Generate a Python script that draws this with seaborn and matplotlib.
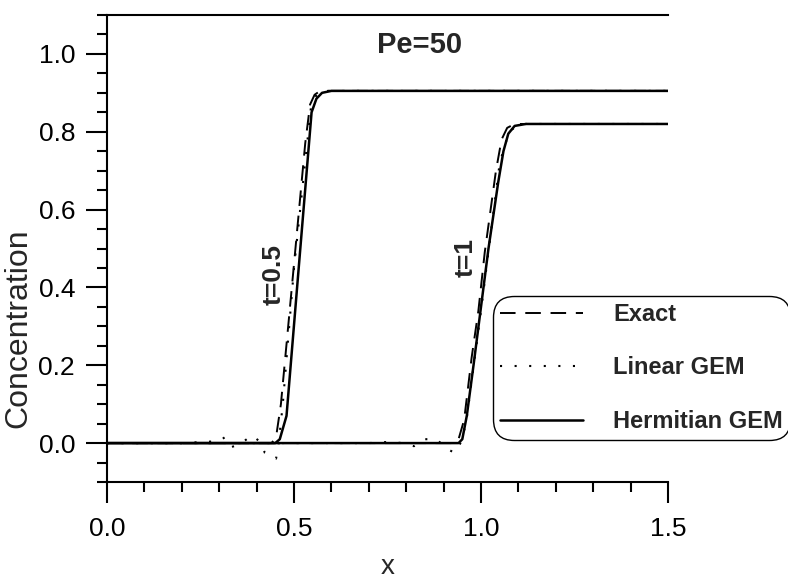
import numpy as np
import matplotlib
matplotlib.use("Agg")
import matplotlib.pyplot as plt
import pandas as pd
import seaborn as sns
from matplotlib.ticker import MultipleLocator

# valores (x, concentracao)
exato_t05_x = [0.0, 0.44, 0.452, 0.465, 0.50, 0.53, 0.543, 0.555, 0.57, 0.60, 1.5]
exato_t05_y = [0.0, 0.0, 0.015, 0.10, 0.46, 0.77, 0.87, 0.895, 0.905, 0.905, 0.905]
exato_t1_x = [0.0, 0.925, 0.94, 0.955, 0.975, 0.993, 1.01, 1.04, 1.055, 1.07, 1.09, 1.12, 1.5]
exato_t1_y = [0.0, 0.0, 0.01, 0.06, 0.22, 0.34, 0.49, 0.70, 0.78, 0.81, 0.82, 0.82, 0.82]

linear_t05_x = [0.0, 0.2, 0.30, 0.315, 0.334, 0.36, 0.387, 0.41, 0.422, 0.452, 0.458,
                0.47, 0.50, 0.545, 0.56, 0.58, 0.60, 1.5]
linear_t05_y = [0.0, 0.0, 0.005, 0.015, -0.01, 0.0, 0.02, 0.003, -0.025, -0.04, -0.01,
                0.10, 0.45, 0.86, 0.895, 0.905, 0.905, 0.905]
linear_t1_x = [0.0, 0.70, 0.754, 0.79, 0.821, 0.85, 0.881, 0.908, 0.929, 0.945,
               0.96, 1.0, 1.05, 1.075, 1.10, 1.12, 1.5]
linear_t1_y = [0.0, 0.0, 0.003, 0.0, -0.008, 0.01, 0.01, -0.014, -0.025, 0.0,
               0.05, 0.34, 0.72, 0.80, 0.818, 0.82, 0.82]

hermit_t05_x = [0.0, 0.45, 0.462, 0.48, 0.51, 0.547, 0.56, 0.575, 0.60, 1.5]
hermit_t05_y = [0.0, 0.0, 0.01, 0.07, 0.42, 0.85, 0.885, 0.90, 0.905, 0.905]
hermit_t1_x = [0.0, 0.94, 0.95, 0.962, 0.98, 1.0, 1.02, 1.046, 1.06, 1.073, 1.09, 1.12, 1.5]
hermit_t1_y = [0.0, 0.0, 0.01, 0.07, 0.20, 0.35, 0.50, 0.67, 0.75, 0.795, 0.815, 0.82, 0.82]

sns.set_style("ticks")
plt.rcParams['font.family'] = ['Liberation Sans', 'DejaVu Sans']

fig = plt.figure(figsize=(7.88, 5.79), dpi=100)
ax = fig.add_axes([107/788, 1 - 482/579, (668 - 107)/788, (482 - 15)/579])

estilo_exato = dict(color='black', linewidth=1.4, linestyle=(0, (8, 5)))
estilo_linear = dict(color='black', linewidth=1.5, linestyle=(0, (1, 6)))
estilo_hermit = dict(color='black', linewidth=1.8, linestyle='-')

curvas = [
    (exato_t05_x, exato_t05_y, estilo_exato, 'Exact'),
    (exato_t1_x, exato_t1_y, estilo_exato, None),
    (linear_t05_x, linear_t05_y, estilo_linear, 'Linear GEM'),
    (linear_t1_x, linear_t1_y, estilo_linear, None),
    (hermit_t05_x, hermit_t05_y, estilo_hermit, 'Hermitian GEM'),
    (hermit_t1_x, hermit_t1_y, estilo_hermit, None),
]
for cx, cy, est, rot in curvas:
    df = pd.DataFrame({'x': cx, 'c': cy})
    sns.lineplot(data=df, x='x', y='c', ax=ax, sort=False, estimator=None,
                 label=rot, legend=False, **est)

ax.set_xlim(0, 1.5)
ax.set_ylim(-0.1, 1.1)
ax.xaxis.set_major_locator(MultipleLocator(0.5))
ax.xaxis.set_minor_locator(MultipleLocator(0.1))
ax.yaxis.set_major_locator(MultipleLocator(0.2))
ax.yaxis.set_minor_locator(MultipleLocator(0.05))
ax.xaxis.set_major_formatter(matplotlib.ticker.FormatStrFormatter('%.1f'))
ax.yaxis.set_major_formatter(matplotlib.ticker.FormatStrFormatter('%.1f'))
ax.tick_params(which='major', direction='out', length=15, width=1.5,
               labelsize=19, pad=8, color='black', labelcolor='black')
ax.tick_params(which='minor', direction='out', length=7.5, width=1.5, color='black')
ax.tick_params(axis='x', which='major', pad=10)

for lado in ['left', 'bottom', 'top']:
    ax.spines[lado].set_linewidth(1.5)
    ax.spines[lado].set_color('black')
ax.spines['right'].set_visible(False)

ax.set_xlabel('x', fontsize=20)
ax.set_ylabel('Concentration', fontsize=23)
ax.yaxis.set_label_coords(-0.132, 0.33)
ax.xaxis.set_label_coords(0.5, -0.155)

ax.text(0.837, 1.024, 'Pe=50', fontsize=21, fontweight='bold', ha='center', va='center')
ax.text(0.4465, 0.433, 't=0.5', fontsize=19, fontweight='bold', rotation=90,
        ha='center', va='center')
ax.text(0.96, 0.477, 't=1', fontsize=19, fontweight='bold', rotation=90,
        ha='center', va='center')

leg = ax.legend(loc='center left', bbox_to_anchor=(493/788, 1 - 368/579),
                bbox_transform=fig.transFigure, frameon=True, fancybox=True,
                prop={'size': 17, 'weight': 'bold'}, handlelength=3.5,
                handletextpad=1.3, labelspacing=1.3, borderpad=0.3,
                borderaxespad=0)
quadro = leg.get_frame()
quadro.set_edgecolor('black')
quadro.set_linewidth(1.0)
quadro.set_alpha(1)
quadro.set_boxstyle('round', pad=0, rounding_size=0.9)

fig.savefig('out.png', dpi=100)
